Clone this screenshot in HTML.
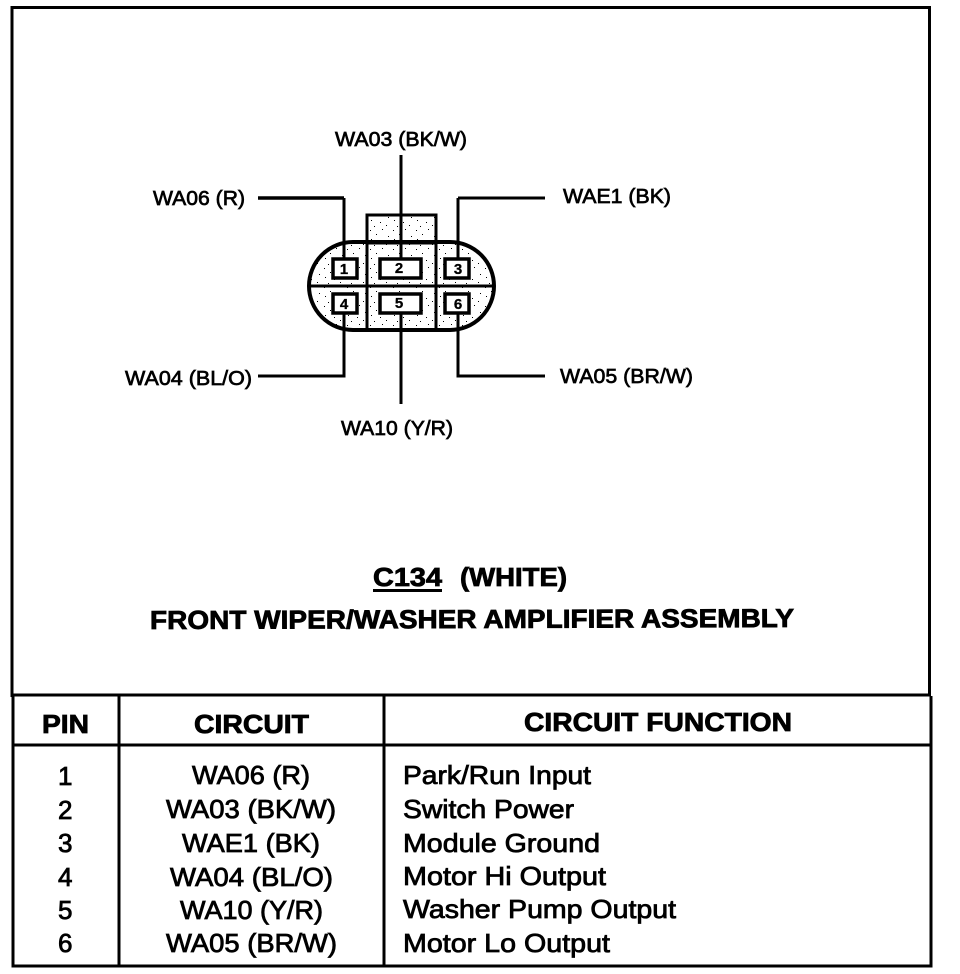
<!DOCTYPE html>
<html><head><meta charset="utf-8"><style>
html,body{margin:0;padding:0;background:#fff}
svg{display:block}
text{font-family:"Liberation Sans",sans-serif;fill:#000;stroke:#000}
.l{font-size:20.5px;stroke-width:.7px}
.b{font-size:26px;stroke-width:.8px}
.h{font-size:26px;font-weight:bold;stroke-width:.8px}
.p{font-size:15px;font-weight:bold;stroke-width:.3px}
</style></head><body>
<svg width="960" height="974" viewBox="0 0 960 974" xmlns="http://www.w3.org/2000/svg">
<defs>
<pattern id="s" width="23" height="19" patternUnits="userSpaceOnUse">
<g fill="#000">
<rect x="2" y="2" width="1" height="1"/><rect x="14" y="1" width="1" height="1"/>
<rect x="8" y="6" width="1" height="1"/><rect x="20" y="8" width="1" height="1"/>
<rect x="3" y="11" width="1" height="1"/><rect x="12" y="13" width="1" height="1"/>
<rect x="18" y="16" width="1" height="1"/><rect x="6" y="17" width="1" height="1"/>
</g>
</pattern>
</defs>
<rect width="960" height="974" fill="#fff"/>
<g fill="none" stroke="#000">
<path d="M12 7.500H929.500V696M931 696V966H13V696M12 6V697" stroke-width="3"/>
<path d="M12 695H931" stroke-width="3"/>
<path d="M12 745H931" stroke-width="3"/>
<path d="M119 695V966M384 695V966" stroke-width="3"/>
<path d="M258 198H344" stroke-width="3.500"/>
<path d="M545 198H458" stroke-width="3"/>
<path d="M258 376H344V314M401 314V404M545 376H458V314" stroke-width="3"/>
<rect x="367" y="215" width="69" height="28" fill="url(#s)" stroke-width="3"/>
<rect x="309" y="242" width="185" height="88" rx="44" ry="44" fill="url(#s)" stroke-width="4"/>
<path d="M309 286H494" stroke-width="3"/>
<path d="M367 215V330M436 215V330" stroke-width="3"/>
<path d="M344 198V258M401 155V258M458 198V258" stroke-width="3"/>
<g fill="#fff" stroke-width="3.500">
<rect x="333" y="259" width="24" height="19"/>
<rect x="380" y="259" width="41" height="19"/>
<rect x="445" y="259" width="24" height="19"/>
<rect x="333" y="294" width="24" height="19"/>
<rect x="380" y="294" width="41" height="19"/>
<rect x="445" y="294" width="24" height="19"/>
</g>
</g>
<g text-anchor="middle">
<text class="p" x="344" y="274">1</text>
<text class="p" x="399" y="273">2</text>
<text class="p" x="458" y="274">3</text>
<text class="p" x="344" y="309">4</text>
<text class="p" x="399" y="308">5</text>
<text class="p" x="458" y="309">6</text>
</g>
<text class="l" x="335" y="146" textLength="132" lengthAdjust="spacingAndGlyphs">WA03 (BK/W)</text>
<text class="l" x="153" y="205" textLength="92" lengthAdjust="spacingAndGlyphs">WA06 (R)</text>
<text class="l" x="563" y="203" textLength="108" lengthAdjust="spacingAndGlyphs">WAE1 (BK)</text>
<text class="l" x="125" y="385" textLength="127" lengthAdjust="spacingAndGlyphs">WA04 (BL/O)</text>
<text class="l" x="560" y="383" textLength="133" lengthAdjust="spacingAndGlyphs">WA05 (BR/W)</text>
<text class="l" x="341" y="435" textLength="112" lengthAdjust="spacingAndGlyphs">WA10 (Y/R)</text>
<text class="h" x="373" y="586" textLength="69" lengthAdjust="spacingAndGlyphs">C134</text>
<rect x="373" y="589" width="69" height="3" fill="#000"/>
<text class="h" x="460" y="586" textLength="107" lengthAdjust="spacingAndGlyphs">(WHITE)</text>
<text class="h" x="150" y="629" textLength="644" lengthAdjust="spacingAndGlyphs" transform="rotate(-.18 150 629)">FRONT WIPER/WASHER AMPLIFIER ASSEMBLY</text>
<text class="h" x="42" y="733" textLength="47" lengthAdjust="spacingAndGlyphs">PIN</text>
<text class="h" x="194" y="733" textLength="115" lengthAdjust="spacingAndGlyphs">CIRCUIT</text>
<text class="h" x="524" y="731" textLength="268" lengthAdjust="spacingAndGlyphs">CIRCUIT FUNCTION</text>
<text class="b" x="58" y="785">1</text>
<text class="b" x="58" y="819">2</text>
<text class="b" x="58" y="852">3</text>
<text class="b" x="58" y="886">4</text>
<text class="b" x="58" y="919">5</text>
<text class="b" x="58" y="952">6</text>
<text class="b" x="192" y="784" textLength="118" lengthAdjust="spacingAndGlyphs">WA06 (R)</text>
<text class="b" x="166" y="818" textLength="170" lengthAdjust="spacingAndGlyphs">WA03 (BK/W)</text>
<text class="b" x="182" y="852" textLength="138" lengthAdjust="spacingAndGlyphs">WAE1 (BK)</text>
<text class="b" x="170" y="886" textLength="163" lengthAdjust="spacingAndGlyphs">WA04 (BL/O)</text>
<text class="b" x="180" y="919" textLength="143" lengthAdjust="spacingAndGlyphs">WA10 (Y/R)</text>
<text class="b" x="166" y="952" textLength="171" lengthAdjust="spacingAndGlyphs">WA05 (BR/W)</text>
<text class="b" x="403" y="784" textLength="188" lengthAdjust="spacingAndGlyphs">Park/Run Input</text>
<text class="b" x="403" y="818" textLength="171" lengthAdjust="spacingAndGlyphs">Switch Power</text>
<text class="b" x="403" y="852" textLength="197" lengthAdjust="spacingAndGlyphs">Module Ground</text>
<text class="b" x="403" y="885" textLength="203" lengthAdjust="spacingAndGlyphs">Motor Hi Output</text>
<text class="b" x="403" y="918" textLength="273" lengthAdjust="spacingAndGlyphs">Washer Pump Output</text>
<text class="b" x="403" y="952" textLength="207" lengthAdjust="spacingAndGlyphs">Motor Lo Output</text>
</svg>
</body></html>
